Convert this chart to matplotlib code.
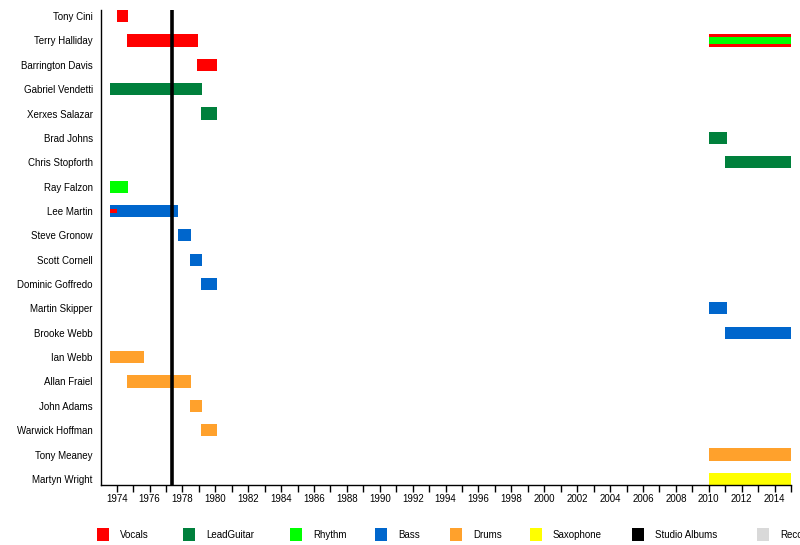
import matplotlib
matplotlib.use("Agg")
import matplotlib.pyplot as plt
import matplotlib.ticker as mticker
from matplotlib.patches import Rectangle

plt.rcParams['font.family'] = ['Liberation Sans', 'DejaVu Sans']

# --- 数据 ---
members = ['Tony Cini', 'Terry Halliday', 'Barrington Davis', 'Gabriel Vendetti',
           'Xerxes Salazar', 'Brad Johns', 'Chris Stopforth', 'Ray Falzon',
           'Lee Martin', 'Steve Gronow', 'Scott Cornell', 'Dominic Goffredo',
           'Martin Skipper', 'Brooke Webb', 'Ian Webb', 'Allan Fraiel',
           'John Adams', 'Warwick Hoffman', 'Tony Meaney', 'Martyn Wright']

# 主要角色时间段
bar_member = ['Tony Cini', 'Terry Halliday', 'Terry Halliday', 'Barrington Davis',
              'Gabriel Vendetti', 'Xerxes Salazar', 'Brad Johns', 'Chris Stopforth',
              'Ray Falzon', 'Lee Martin', 'Steve Gronow', 'Scott Cornell',
              'Dominic Goffredo', 'Martin Skipper', 'Brooke Webb', 'Ian Webb',
              'Allan Fraiel', 'John Adams', 'Warwick Hoffman', 'Tony Meaney',
              'Martyn Wright']
bar_role = ['Vocals', 'Vocals', 'Vocals', 'Vocals',
            'LeadGuitar', 'LeadGuitar', 'LeadGuitar', 'LeadGuitar',
            'Rhythm', 'Bass', 'Bass', 'Bass',
            'Bass', 'Bass', 'Bass', 'Drums',
            'Drums', 'Drums', 'Drums', 'Drums',
            'Saxophone']
bar_start = [1974.0, 1974.65, 2010.0, 1978.9,
             1973.6, 1979.15, 2010.0, 2011.0,
             1973.6, 1973.6, 1977.75, 1978.45,
             1979.15, 2010.0, 2011.0, 1973.6,
             1974.65, 1978.45, 1979.15, 2010.0,
             2010.0]
bar_end = [1974.7, 1978.95, 2015.0, 1980.1,
           1979.2, 1980.1, 2011.1, 2015.0,
           1974.7, 1977.75, 1978.5, 1979.2,
           1980.1, 2011.1, 2015.0, 1975.65,
           1978.5, 1979.2, 1980.1, 2015.0,
           2015.0]

# 次要角色（细条叠加）
sub_member = ['Terry Halliday', 'Lee Martin']
sub_role = ['Rhythm', 'Vocals']
sub_start = [2010.0, 1973.6]
sub_end = [2015.0, 1974.05]
sub_height = [0.27, 0.15]

studio_albums = [1977.37]

roles = ['Vocals', 'LeadGuitar', 'Rhythm', 'Bass', 'Drums', 'Saxophone',
         'Studio Albums', 'Recording']
role_colors = {'Vocals': '#FF0000', 'LeadGuitar': '#00803C', 'Rhythm': '#00FF00',
               'Bass': '#0066CC', 'Drums': '#FFA12C', 'Saxophone': '#FFFF00',
               'Studio Albums': '#000000', 'Recording': '#D9D9D9'}

# --- 绘图 ---
fig = plt.figure(figsize=(8, 5.45), dpi=100)
ax = fig.add_axes([101 / 800, 1 - 485 / 545, 690 / 800, 475 / 545])

row = {m: i for i, m in enumerate(members)}

for m, r, s, e in zip(bar_member, bar_role, bar_start, bar_end):
    ax.barh(row[m], e - s, left=s, height=0.5, color=role_colors[r], linewidth=0)

for m, r, s, e, h in zip(sub_member, sub_role, sub_start, sub_end, sub_height):
    ax.barh(row[m], e - s, left=s, height=h, color=role_colors[r], linewidth=0)

for yr in studio_albums:
    ax.axvline(yr, color='black', linewidth=2.6, zorder=3)

ax.set_xlim(1973.05, 2015.0)
ax.set_ylim(len(members) - 0.75, -0.25)
ax.set_yticks(range(len(members)))
ax.set_yticklabels(members, fontsize=7)
ax.tick_params(axis='y', length=0, pad=6)

ax.xaxis.set_major_locator(mticker.MultipleLocator(2))
ax.xaxis.set_minor_locator(mticker.MultipleLocator(1))
ax.xaxis.set_major_formatter(mticker.FormatStrFormatter('%d'))
ax.tick_params(axis='x', which='both', direction='out', length=5, width=1,
               labelsize=7, pad=1.5)

for side in ['top', 'right']:
    ax.spines[side].set_visible(False)
for side in ['left', 'bottom']:
    ax.spines[side].set_linewidth(1)

# --- 图例（手动排布，最后一项与原图一样被右边缘截断） ---
legend_x = [97, 183, 290, 375, 450, 530, 632, 757]
for lx, r in zip(legend_x, roles):
    fig.add_artist(Rectangle((lx / 800, 1 - 541 / 545), 12 / 800, 13 / 545,
                             transform=fig.transFigure, color=role_colors[r],
                             linewidth=0))
    fig.text((lx + 23) / 800, 1 - 535 / 545, r, fontsize=7, va='center', ha='left')

plt.savefig('out.png', dpi=100)
